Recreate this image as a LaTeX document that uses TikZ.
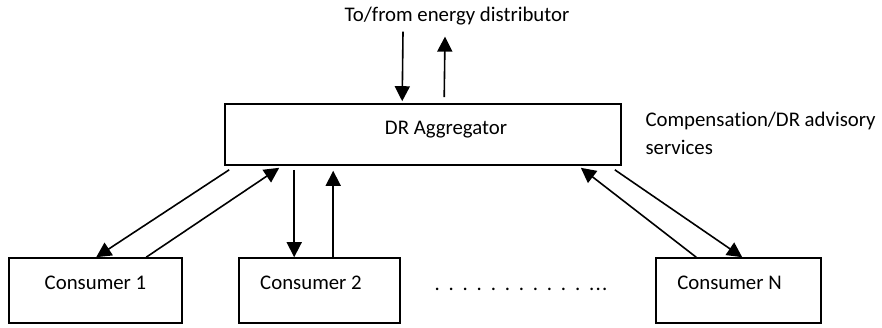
\documentclass[tikz,border=0pt]{standalone}
\usepackage{fontspec}
\setmainfont[Ligatures=NoCommon]{Carlito}
\usetikzlibrary{arrows.meta, calc}

\newcommand{\spdot}{.\hspace{8.8pt}}

\begin{document}
\begin{tikzpicture}[
  x=1pt, y=-1pt,
  every node/.style={font=\fontsize{20.8}{28}\selectfont},
  unitbox/.style={draw, rectangle, line width=1.6pt, inner sep=0pt, minimum height=65pt},
  line/.style={-{Triangle[length=15pt, width=15pt]}, line width=1.6pt}
]
\useasboundingbox (0,0) rectangle (882,327);

\node[unitbox, minimum width=396pt, minimum height=61pt,
  label={[name=aggtext, xshift=23pt, yshift=4.5pt]center:DR Aggregator}] (agg) at (423,134.5) {};
\node[unitbox, minimum width=173pt,
  label={[name=c1text, yshift=7.5pt]center:Consumer 1}] (c1) at (95.5,290.5) {};
\node[unitbox, minimum width=161pt,
  label={[name=c2text, xshift=-8.5pt, yshift=7.5pt]center:Consumer 2}] (c2) at (319.5,290.5) {};
\node[unitbox, minimum width=165pt,
  label={[name=cntext, xshift=-9pt, yshift=7.5pt]center:Consumer N}] (cn) at (738.5,290.5) {};

\node[anchor=base] (dist) at (457,21.5) {To/from energy distributor};
\node[anchor=west, align=left] (comp) at (642,133) {Compensation/DR advisory\\services};
\node[anchor=base west, inner sep=0pt] (dots) at (434.4,290)
  {\spdot\spdot\spdot\spdot\spdot\spdot\spdot\spdot\spdot\spdot\spdot.\hspace{1.3pt}.\hspace{1.3pt}.};

\draw[line] ($(dist.south)+(-54,3)$) -- ($(agg.north west)+(178,-2)$);
\draw[line] ($(agg.north west)+(220,-6)$) -- ($(dist.south)+(-12,8)$);
\draw[line] ($(agg.south west)+(5,4)$) -- ($(c1.north west)+(88,0)$);
\draw[line] ($(c1.north west)+(138,0)$) -- ($(agg.south west)+(55,2)$);
\draw[line] ($(agg.south west)+(70,4)$) -- ($(c2.north west)+(56,0)$);
\draw[line] ($(c2.north west)+(95,0)$) -- ($(agg.south west)+(109,5)$);
\draw[line] ($(cn.north west)+(41,0)$) -- ($(agg.south east)+(-41,2)$);
\draw[line] ($(agg.south east)+(-7,4)$) -- ($(cn.north west)+(87,0)$);
\end{tikzpicture}
\end{document}
